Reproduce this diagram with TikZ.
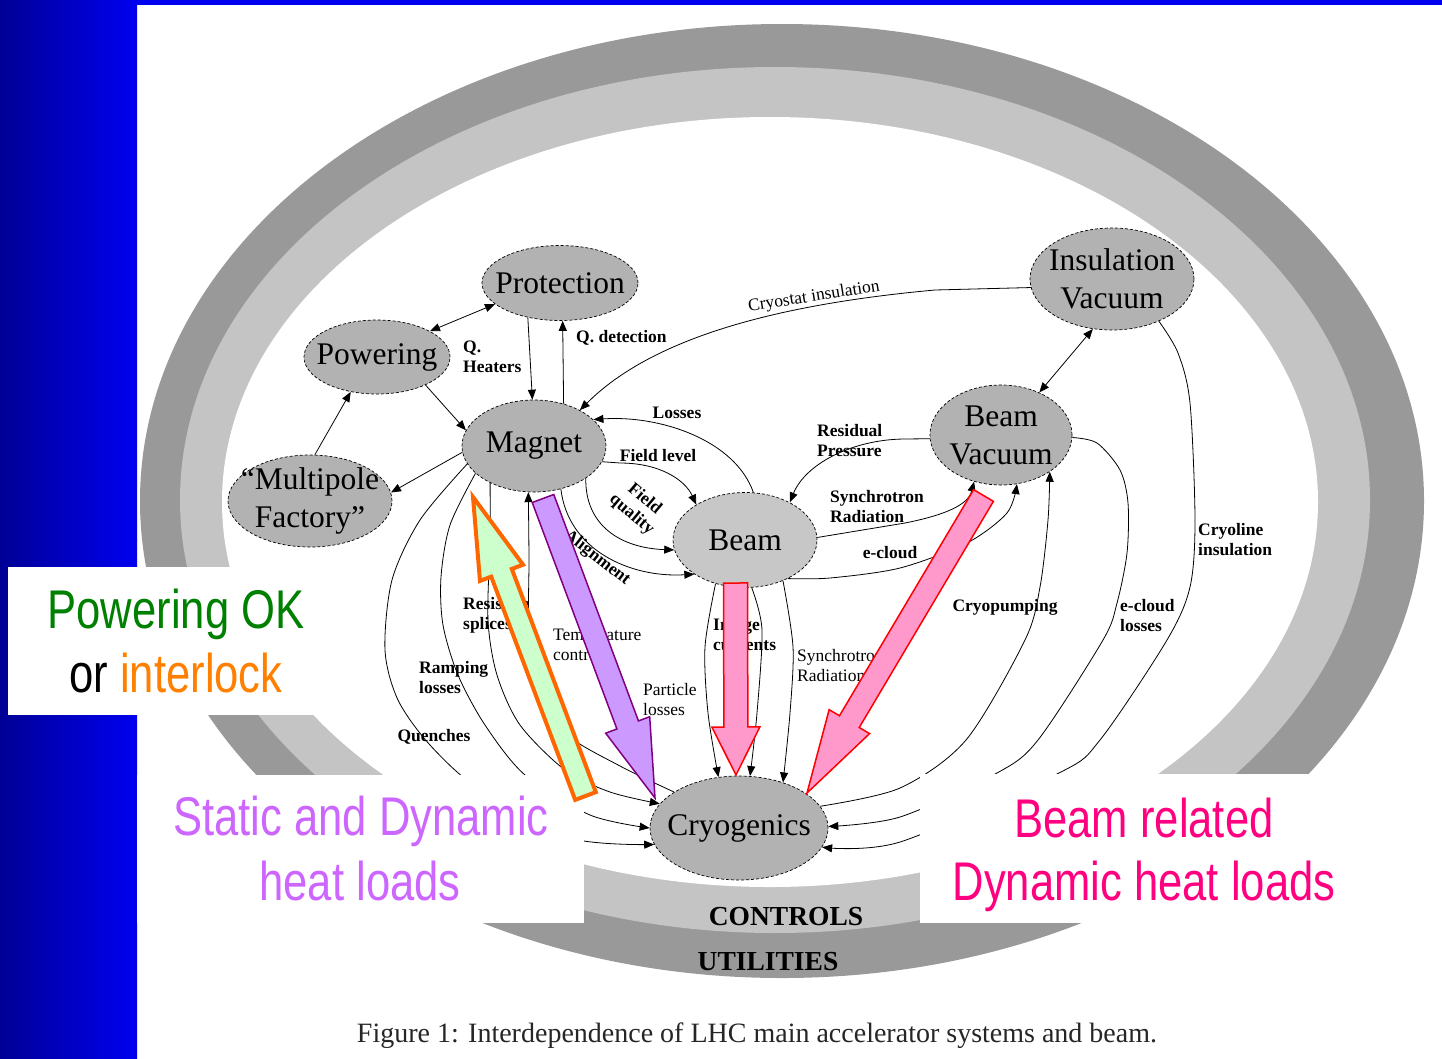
\documentclass[tikz,border=0pt]{standalone}
\usepackage{fontspec}
\setmainfont{Liberation Serif}
\newfontfamily\slidefont[FakeStretch=0.8]{Liberation Sans}
\usetikzlibrary{shapes.geometric,arrows.meta,calc}
\definecolor{navyleft}{RGB}{0,0,150}
\definecolor{slideblue}{RGB}{0,0,240}
\definecolor{ringdark}{RGB}{153,153,153}
\definecolor{ringlight}{RGB}{196,196,196}
\definecolor{okgreen}{RGB}{0,128,0}
\definecolor{lockorange}{RGB}{255,128,0}
\definecolor{staticviolet}{RGB}{204,102,255}
\definecolor{beampink}{RGB}{255,0,128}
\definecolor{greenfill}{RGB}{204,255,204}
\definecolor{greenedge}{RGB}{255,102,0}
\definecolor{violetfill}{RGB}{204,153,255}
\definecolor{violetedge}{RGB}{128,0,128}
\definecolor{pinkfill}{RGB}{255,153,204}
% zero-width line, so the ellipse size comes from minimum width
\newcommand{\sysline}[1]{\makebox[0pt]{#1}}
% block arrow: options, tail, tip, head length, half shaft, half head
\newcommand{\blockarrow}[6]{%
  \coordinate (bh) at ($(#3)!#4!(#2)$);
  \draw[#1, line join=miter] ($(#2)!#5!90:(#3)$) -- ($(bh)!#5!90:(#3)$) -- ($(bh)!#6!90:(#3)$)
    -- (#3) -- ($(bh)!#6!-90:(#3)$) -- ($(bh)!#5!-90:(#3)$) -- ($(#2)!#5!-90:(#3)$) -- cycle;}
\begin{document}
\begin{tikzpicture}[x=1pt,y=-1pt,
  >={Triangle[length=10pt,width=8pt]},
  sys/.style={ellipse, draw, densely dashed, line width=0.7pt, fill=black!30, inner sep=0pt,
    align=center, font=\fontsize{31.5}{38}\selectfont},
  flow/.style={->, line width=0.8pt},
  biflow/.style={<->, line width=0.8pt},
  lbl/.style={font=\bfseries\fontsize{17.5}{20}\selectfont, align=left, inner sep=0pt},
  plainlbl/.style={font=\fontsize{17.5}{20}\selectfont, align=left, inner sep=0pt},
  slidetext/.style={font=\slidefont\fontsize{54.5}{64}\selectfont, inner sep=0pt, anchor=base}]
  \useasboundingbox (0,0) rectangle (1442,1058);
  % Slide background
  \fill[white] (0,0) rectangle (1442,1058);
  \shade[left color=navyleft, right color=slideblue] (0,0) rectangle (137,1058);
  \fill[slideblue] (137,0) rectangle (1442,5);
  % Utilities and controls rings
  \fill[ringdark] (782,501) ellipse [x radius=642, y radius=477];
  \fill[ringlight] (775,500) ellipse [x radius=595, y radius=433];
  \fill[white] (770,502) ellipse [x radius=548, y radius=385];
  \node[font=\bfseries\fontsize{27.5}{30}\selectfont] (controls) at (786,917) {CONTROLS};
  \node[font=\bfseries\fontsize{27.5}{30}\selectfont] (utilities) at (768,962) {UTILITIES};
  \node[font=\fontsize{28}{30}\selectfont, anchor=base, text=black!85] (caption) at (757,1042)
    {Figure 1: Interdependence of LHC main accelerator systems and beam.};
  % Systems
  \node[sys, minimum width=156, minimum height=75] (prot) at (560,283) {\sysline{Protection}};
  \node[sys, minimum width=146, minimum height=74] (pow) at (377,357) {\sysline{Powering}};
  \node[sys, minimum width=144, minimum height=92] (magnet) at (534,446) {\sysline{Magnet}};
  \node[sys, minimum width=164, minimum height=92, inner ysep=-4pt] (multi) at (310,501)
    {\sysline{``Multipole}\\\sysline{Factory''}};
  \node[sys, minimum width=164, minimum height=102] (insvac) at (1112,279) {\sysline{Insulation}\\\sysline{Vacuum}};
  \node[sys, minimum width=142, minimum height=100, inner ysep=-1pt] (beamvac) at (1001,435)
    {\sysline{Beam}\\\sysline{Vacuum}};
  \node[sys, minimum width=144, minimum height=95, fill=black!22] (beam) at (745,540) {\sysline{Beam}};
  \node[sys, minimum width=178, minimum height=104] (cryo) at (739,828) {\sysline{Cryogenics}};
  % Links around the magnet
  \draw[biflow] (pow.26) -- (prot.198);
  \draw[flow] (pow.-30) -- (magnet.167);
  \draw[flow] (multi.84) -- (pow.-127);
  \draw[flow] (magnet.185) -- (multi.6);
  \draw[flow] (prot.-133) -- (magnet.92);
  \draw[flow] (magnet.55) -- (prot.-86);
  \draw[flow] (insvac.186) -- (935,290) .. controls (770,305) and (650,340) .. (magnet.38);
  \draw[flow] (beam.80) .. controls (735,440) and (660,415) .. (magnet.24);
  \draw[flow] (magnet.-13) -- (620,463) .. controls (660,463) and (685,480) .. (beam.144);
  \draw[flow] (magnet.-32) .. controls (585,525) and (620,548) .. (beam.188);
  \draw[flow] (magnet.-58) .. controls (568,550) and (630,578) .. (beam.-146);
  % Links to the vacuum systems
  \draw[flow] (beamvac.183) -- (903,439) .. controls (850,440) and (805,465) .. (beam.40);
  \draw[flow] (beam.2) -- (905,523) .. controls (945,515) and (968,505) .. (beamvac.-120);
  \draw[flow] plot[smooth] coordinates {(beam.-42) (830,578) (900,568) (967,543) (1007,513) (beamvac.-72)};
  \draw[biflow] (insvac.-111) -- (beamvac.48);
  \draw[flow] plot[smooth] coordinates {(cryo.15) (900,788) (966,740) (1025,640) (1040,587) (1048,520) (beamvac.-37)};
  \draw[flow] plot[smooth] coordinates {(beamvac.-2) (1097,443) (1120,470) (1128,503) (1127,553) (1117,603)
    (1103,640) (1038,740) (997,773) (900,817) (cryo.1)};
  \draw[flow] plot[smooth] coordinates {(insvac.-42) (1178,353) (1190,403) (1195,520) (1190,587) (1167,640)
    (1100,740) (1059,773) (900,842) (cryo.-13)};
  % Heat loads into cryogenics
  \draw[flow] plot[smooth] coordinates {(beam.-124) (705,647) (708,713) (cryo.112)};
  \draw[flow] plot[smooth] coordinates {(beam.-82) (762,630) (757,713) (cryo.78)};
  \draw[flow] plot[smooth] coordinates {(beam.-47) (793,647) (790,713) (cryo.46)};
  \draw[flow] plot[smooth] coordinates {(magnet.195) (420,520) (392,580) (385,650) (398,700) (430,745)
    (480,790) (570,838) (cryo.191)};
  \draw[flow] plot[smooth] coordinates {(magnet.205) (450,525) (441,577) (443,625) (458,675) (485,725)
    (525,775) (590,815) (cryo.180)};
  \draw[flow] plot[smooth] coordinates {(magnet.220) (490,540) (488,620) (497,675) (520,725) (565,770)
    (610,792) (cryo.163)};
  \draw[flow] plot[smooth] coordinates {(cryo.151) (620,766) (565,733) (538,685) (529,625) (529,560) (magnet.-97)};
  % Link labels
  \node[lbl, anchor=north west] (lqheat) at (463,341) {Q.\\Heaters};
  \node[lbl, anchor=west] (lqdet) at (576,338) {Q. detection};
  \node[plainlbl, rotate=9] (lcryostat) at (814,297) {Cryostat insulation};
  \node[lbl] (llosses) at (677,413) {Losses};
  \node[lbl] (lfield) at (658,456) {Field level};
  \node[lbl, rotate=-40, align=center] (lquality) at (638,507) {Field\\quality};
  \node[lbl, rotate=-38] (lalign) at (597,558) {Alignment};
  \node[lbl, anchor=north west] (lresid) at (817,424) {Residual\\Pressure};
  \node[lbl, anchor=north west] (lsynch) at (830,490) {Synchrotron\\Radiation};
  \node[lbl] (lecloud) at (890,553) {e-cloud};
  \node[lbl] (lpump) at (1005,607) {Cryopumping};
  \node[lbl, anchor=north west] (leloss) at (1120,599) {e-cloud\\losses};
  \node[lbl, anchor=north west] (lcryoline) at (1198,523) {Cryoline\\insulation};
  \node[lbl, anchor=north west] (limage) at (713,619) {Image\\currents};
  \node[plainlbl, anchor=north west] (lsynchb) at (797,649) {Synchrotron\\Radiation};
  \node[plainlbl, anchor=north west] (lpart) at (643,683) {Particle\\losses};
  \node[lbl, anchor=north west] (lsplice) at (463,597) {Resistive\\splices};
  \node[plainlbl, anchor=north west] (ltemp) at (553,629) {Temperature\\control};
  \node[lbl, anchor=north west] (lramp) at (419,661) {Ramping\\losses};
  \node[lbl] (lquench) at (434,737) {Quenches};
  % Slide overlays
  \fill[white] (8,567) rectangle (325,715);
  \fill[white] (137,775) rectangle (584,923);
  \fill[white] (920,774) rectangle (1442,923);
  \node[slidetext, text=okgreen] (okline) at (176,628) {Powering OK};
  \node[slidetext] (lockline) at (176,692) {or \textcolor{lockorange}{interlock}};
  \node[slidetext, text=staticviolet] (staticline) at (361,835) {Static and Dynamic};
  \node[slidetext, text=staticviolet] (heatline) at (360,900) {heat loads};
  \node[slidetext, text=beampink] (beamline) at (1144,837) {Beam related};
  \node[slidetext, text=beampink] (dynline) at (1144,900) {Dynamic heat loads};
  % Big arrows
  \coordinate (gtail) at (585.5,796); \coordinate (gtip) at (473,497);
  \coordinate (vtail) at (543,498.5); \coordinate (vtip) at (655,798);
  \coordinate (ptail) at (735.5,583); \coordinate (ptip) at (736,775);
  \coordinate (qtail) at (983.5,495.5); \coordinate (qtip) at (807,793);
  \blockarrow{fill=greenfill, draw=greenedge, line width=4pt}{gtail}{gtip}{81pt}{11pt}{23pt}
  \blockarrow{fill=violetfill, draw=violetedge, line width=1.5pt}{vtail}{vtip}{78pt}{11.5pt}{23.5pt}
  \blockarrow{fill=pinkfill, draw=red, line width=1.5pt}{ptail}{ptip}{48pt}{12pt}{24pt}
  \blockarrow{fill=pinkfill, draw=red, line width=1.5pt}{qtail}{qtip}{83pt}{11.5pt}{23.5pt}
\end{tikzpicture}
\end{document}
